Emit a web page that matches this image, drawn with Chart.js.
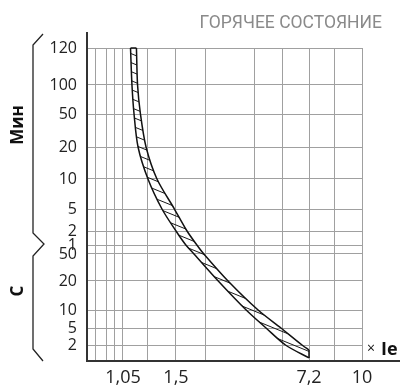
<!DOCTYPE html>
<html>
<head>
<meta charset="utf-8">
<script src="https://cdn.jsdelivr.net/npm/chart.js@4.4.1/dist/chart.umd.min.js"></script>
<style>
  html, body { margin: 0; padding: 0; background: #fff; }
  .wrap { position: relative; width: 403px; height: 387px; }
  .unit {
    position: absolute;
    font: bold 17px "Open Sans", sans-serif;
    color: #111;
    line-height: 1;
    white-space: nowrap;
    transform: translate(-50%, -50%) rotate(-90deg);
  }
</style>
</head>
<body>
<div class="wrap">
  <canvas id="curve" width="403" height="387"></canvas>
  <div class="unit" id="unit-min" style="left:16px; top:125px;"></div>
  <div class="unit" id="unit-sec" style="left:16px; top:291px;"></div>
</div>
<script>
// x: multiple of rated current, y: tripping time in seconds
const xGrid = [1, 1.01, 1.02, 1.03, 1.05, 1.2, 1.5, 2, 3, 5, 7.2, 8.5, 10];
const xLabels = ['', '', '', '', '1,05', '', '1,5', '', '', '', '7,2', '', '10'];
const yGrid = [1, 2, 5, 10, 20, 50, 60, 120, 300, 600, 1200, 3000, 6000, 7200];
const yLabels = ['', '2', '5', '10', '20', '50', '1', '2', '5', '10', '20', '50', '100', '120'];

// left edge of the band
const fastIe = [1.097, 1.106, 1.119, 1.144, 1.21, 1.355, 1.5, 1.67, 1.81, 2.27, 2.84, 3.83, 5.21, 7.2];
const fastT = [7200, 6000, 3000, 1200, 600, 300, 120, 60, 50, 20, 10, 5, 2, 1.19];
// right edge of the band
const slowIe = [1.134, 1.141, 1.159, 1.194, 1.303, 1.484, 1.69, 1.86, 1.98, 2.47, 3.28, 4.86, 6.61, 7.2];
const slowT = [7200, 6000, 3000, 1200, 600, 300, 120, 60, 50, 20, 10, 5, 2, 1.69];

const title = 'ГОРЯЧЕЕ СОСТОЯНИЕ';
const unitMin = 'Мин';
const unitSec = 'С';
const unitX = 'Ie';

document.getElementById('unit-min').textContent = unitMin;
document.getElementById('unit-sec').textContent = unitSec;

// the drawing's axes are not log or linear, so each grid value gets its own spot
class StopScale extends Chart.Scale {
  determineDataLimits() {
    const v = this.options.values;
    this.min = v[0];
    this.max = v[v.length - 1];
  }
  buildTicks() {
    return this.options.values.map(value => ({ value }));
  }
  getLabelForValue(value) {
    return String(value);
  }
  getPixelForValue(value) {
    const v = this.options.values, s = this.options.stops;
    let d = 0;
    for (let i = 1; i < v.length; i++) {
      if (value <= v[i] || i === v.length - 1) {
        d = s[i - 1] + (value - v[i - 1]) / (v[i] - v[i - 1]) * (s[i] - s[i - 1]);
        break;
      }
    }
    return this.getPixelForDecimal(d);
  }
  getValueForPixel(pixel) {
    const d = this.getDecimalForPixel(pixel);
    const v = this.options.values, s = this.options.stops;
    for (let i = 1; i < s.length; i++) {
      if (d <= s[i] || i === s.length - 1) {
        return v[i - 1] + (d - s[i - 1]) / (s[i] - s[i - 1]) * (v[i] - v[i - 1]);
      }
    }
  }
}
StopScale.id = 'stops';
StopScale.defaults = {};
Chart.register(StopScale);

var canvas = document.getElementById('curve');
var ctx = canvas.getContext('2d');

function hatch() {
  var tile = document.createElement('canvas');
  tile.width = 22;
  tile.height = 9;
  var g = tile.getContext('2d');
  g.strokeStyle = '#1a1a1a';
  g.lineWidth = 1;
  [-9, 0, 9].forEach(function (dy) {
    g.beginPath();
    g.moveTo(-22, -9 + dy);
    g.lineTo(44, 18 + dy);
    g.stroke();
  });
  return ctx.createPattern(tile, 'repeat');
}
var pattern = hatch();

// hatched area between the two edges, built from the line elements
const band = {
  id: 'band',
  beforeDatasetsDraw(chart) {
    const a = chart.getDatasetMeta(0).dataset;
    const b = chart.getDatasetMeta(1).dataset;
    const c = chart.ctx;
    c.save();
    c.beginPath();
    a.pathSegment(c, a.segments[0]);
    b.pathSegment(c, b.segments[0], { move: false, reverse: true });
    c.closePath();
    c.fillStyle = pattern;
    c.fill();
    c.restore();
  }
};

const decor = {
  id: 'decor',
  afterDraw(chart) {
    const c = chart.ctx, a = chart.chartArea;
    c.save();
    // axes
    c.strokeStyle = '#333';
    c.lineWidth = 2;
    c.beginPath();
    c.moveTo(a.left, 32);
    c.lineTo(a.left, a.bottom);
    c.lineTo(400, a.bottom);
    c.stroke();

    // brackets for the two time ranges
    c.strokeStyle = '#222';
    c.lineWidth = 1.3;
    c.beginPath();
    c.moveTo(43, 34);
    c.lineTo(33, 45);
    c.lineTo(33, 233);
    c.lineTo(44, 244);
    c.lineTo(33, 256);
    c.lineTo(33, 349);
    c.lineTo(43, 361);
    c.stroke();

    // title
    c.fillStyle = '#8a8a8a';
    c.font = '17.5px Roboto';
    c.textAlign = 'right';
    c.textBaseline = 'alphabetic';
    c.fillText(title, 382, 28);

    c.fillStyle = '#111';
    c.textAlign = 'left';
    c.font = '14px "Open Sans"';
    c.fillText('×', 367, 353);
    c.font = 'bold 18px "Open Sans"';
    c.fillText(unitX, 381, 355);
    c.restore();
  }
};

var edge = {
  borderColor: '#111',
  borderWidth: 1.5,
  pointRadius: 0,
  tension: 0.3,
  fill: false,
  clip: false
};

var chart = new Chart(ctx, {
  type: 'line',
  data: {
    datasets: [
      Object.assign({}, edge, {
        data: fastIe.map((x, i) => ({ x: x, y: fastT[i] }))
      }),
      Object.assign({}, edge, {
        data: slowIe.map((x, i) => ({ x: x, y: slowT[i] }))
      }),
      Object.assign({}, edge, {
        tension: 0,
        data: [
          { x: fastIe[0], y: fastT[0] },
          { x: slowIe[0], y: slowT[0] }
        ]
      }),
      Object.assign({}, edge, {
        tension: 0,
        data: [
          { x: fastIe[fastIe.length - 1], y: fastT[fastT.length - 1] },
          { x: slowIe[slowIe.length - 1], y: slowT[slowT.length - 1] }
        ]
      })
    ]
  },
  options: {
    responsive: false,
    animation: false,
    events: [],
    layout: { padding: { top: 48, right: 41, left: 0, bottom: 0 } },
    plugins: {
      legend: { display: false },
      tooltip: { enabled: false }
    },
    scales: {
      x: {
        type: 'stops',
        values: xGrid,
        stops: [0, 0.0327, 0.0691, 0.1018, 0.1309, 0.2182, 0.3236, 0.4291, 0.6073, 0.7127, 0.8073, 0.8982, 1],
        grid: { color: '#a0a0a0', lineWidth: 1, drawTicks: false },
        border: { display: false },
        ticks: {
          autoSkip: false,
          maxRotation: 0,
          padding: 6,
          color: '#222',
          font: { family: 'Open Sans', size: 18 },
          callback: (v, i) => xLabels[i]
        },
        afterFit: s => { s.height = 26; }
      },
      y: {
        type: 'stops',
        values: yGrid,
        stops: [0, 0.0511, 0.1054, 0.1629, 0.2556, 0.3419, 0.3706, 0.4153, 0.4856, 0.5815, 0.6837, 0.7891, 0.8818, 1],
        grid: { color: '#a0a0a0', lineWidth: 1, drawTicks: false },
        border: { display: false },
        ticks: {
          autoSkip: false,
          padding: 10,
          color: '#222',
          font: { family: 'Open Sans', size: 16 },
          callback: (v, i) => yLabels[i]
        },
        afterFit: s => { s.width = 87; }
      }
    }
  },
  plugins: [band, decor]
});
</script>
</body>
</html>
